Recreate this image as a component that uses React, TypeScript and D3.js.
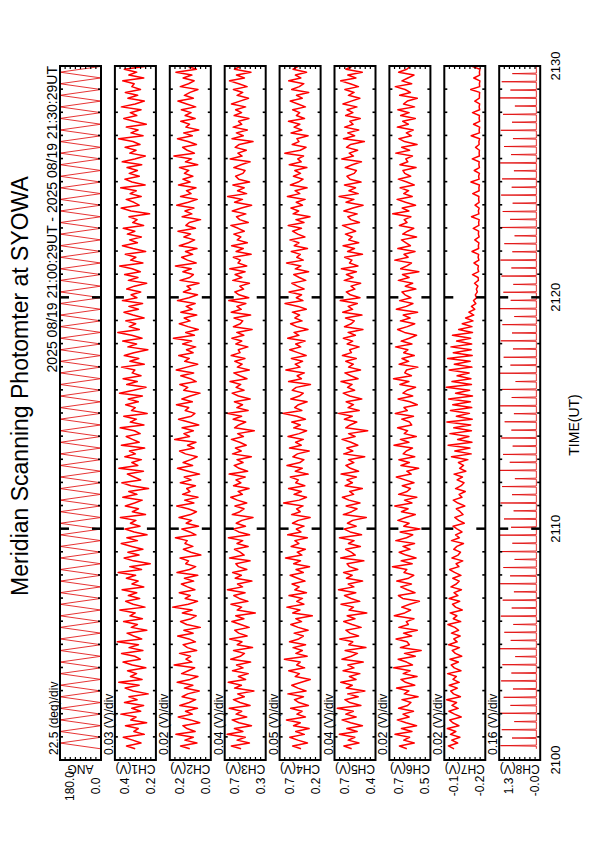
import React from "react"
import * as d3 from "d3"

// page is portrait, chart is drawn landscape and turned -90deg onto it
const PAGE_W = 595
const PAGE_H = 842

const title = "Meridian Scanning Photomter at SYOWA"
const subTitle = "2025 08/19 21:00:29UT - 2025 08/19 21:30:29UT"
const timeTicks = [2100, 2110, 2120, 2130]

const panelNames = ["ANG", "CH1(V)", "CH2(V)", "CH3(V)", "CH4(V)", "CH5(V)", "CH6(V)", "CH7(V)", "CH8(V)"]
const divLabels = ["22.5 (deg)/div", "0.03 (V)/div", "0.02 (V)/div", "0.04 (V)/div", "0.05 (V)/div", "0.04 (V)/div", "0.02 (V)/div", "0.02 (V)/div", "0.16 (V)/div"]
const topLabels = ["180.0", "0.4", "0.2", "0.7", "0.7", "0.7", "0.7", "-0.1", "1.3"]
const bottomLabels = ["0.0", "0.2", "0.0", "0.3", "0.2", "0.4", "0.5", "-0.2", "-0.0"]
const scaleTop = [180, 0.40, 0.20, 0.68, 0.65, 0.70, 0.68, -0.08, 1.26]
const perDiv = [22.5, 0.03, 0.02, 0.04, 0.05, 0.04, 0.02, 0.02, 0.16]

// start of record, minutes after 21:00
const startMin = 29 / 60

// scan mirror angle at each turn (deg), one turn every 15 s
const angTurns = [
  0, 180, 0, 180, 0, 180, 0, 180, 0, 180, 0, 180, 0, 180, 0, 180, 0, 180, 0, 180,
  0, 180, 0, 180, 0, 180, 0, 180, 0, 180, 0, 180, 0, 180, 0, 180, 0, 180, 0, 180,
  0, 180, 0, 180, 0, 180, 0, 180, 0, 180, 0, 180, 0, 180, 0, 180, 0, 180, 0, 180,
  0, 180, 0, 180, 0, 180, 0, 180, 0, 180, 0, 180, 0, 180, 0, 180, 0, 180, 0, 180,
  0, 180, 0, 180, 0, 180, 0, 180, 0, 180, 0, 180, 0, 180, 0, 180, 0, 180, 0, 180,
  0, 180, 0, 180, 0, 180, 0, 180, 0, 180, 0, 180, 0, 180, 0, 180, 0, 180, 0, 180, 0,
]
const angStepMin = 0.25

// photometer channels in mV, one sample every 7.5 s
const sampleStepMin = 0.125

const ch1 = [
  281, 332, 247, 296, 351, 228, 289, 263, 338, 214, 307, 276, 365, 249, 301, 232, 344, 270, 318, 205,
  292, 340, 258, 377, 241, 309, 273, 326, 219, 298, 352, 251, 284, 361, 236, 317, 262, 386, 243, 290,
  329, 213, 304, 268, 349, 239, 312, 281, 371, 224, 293, 337, 255, 321, 272, 358, 231, 300, 264, 333,
  279, 381, 244, 313, 193, 291, 346, 259, 324, 236, 302, 363, 268, 330, 212, 287, 341, 253, 309, 277,
  368, 221, 298, 262, 339, 285, 240, 354, 271, 319, 203, 306, 359, 249, 288, 327, 233, 376, 266, 301,
  245, 342, 280, 315, 226, 362, 258, 297, 334, 252, 286, 369, 230, 310, 274, 348, 211, 303, 281, 337,
  263, 322, 239, 373, 291, 218, 331, 269, 352, 247, 299, 283, 361, 228, 312, 260, 345, 289, 207, 324,
  273, 354, 241, 302, 383, 257, 316, 278, 336, 229, 294, 347, 262, 318, 238, 356, 271, 305, 249, 331,
  286, 214, 321, 265, 343, 251, 299, 372, 236, 308, 277, 339, 220, 294, 356, 268, 314, 245, 327, 283,
  351, 232, 296, 270, 318, 197, 305, 363, 258, 289, 334, 246, 311, 275, 366, 223, 300, 342, 257, 316,
  268, 329, 243, 357, 284, 222, 313, 276, 340, 253, 295, 378, 235, 306, 264, 333, 216, 289, 348, 272,
  310, 247, 362, 281, 228, 324, 267, 339, 250, 301, 287, 354, 231, 318, 272, 345, 226, 299, 336, 262,
]
const ch2 = [
  122, 158, 94, 141, 108, 176, 101, 133, 149, 83, 119, 167, 112, 139, 92, 161, 124, 99, 152, 130,
  85, 143, 110, 171, 121, 90, 154, 128, 103, 183, 114, 137, 119, 162, 95, 131, 148, 100, 125, 169,
  109, 145, 81, 134, 158, 117, 97, 151, 113, 189, 128, 92, 140, 120, 163, 102, 131, 155, 107, 143,
  91, 172, 123, 99, 138, 127, 160, 79, 118, 147, 110, 141, 132, 178, 98, 122, 153, 88, 136, 115,
  164, 119, 96, 129, 173, 106, 142, 90, 150, 121, 134, 100, 159, 117, 144, 84, 128, 170, 111, 148,
  118, 93, 139, 162, 105, 131, 98, 181, 123, 145, 108, 152, 87, 127, 166, 116, 102, 140, 126, 174,
  112, 153, 120, 82, 146, 130, 161, 97, 119, 157, 107, 175, 133, 91, 142, 124, 165, 109, 135, 99,
  150, 115, 186, 104, 138, 89, 129, 163, 121, 144, 95, 157, 113, 136, 101, 170, 125, 92, 147, 118,
  133, 86, 160, 122, 108, 149, 116, 178, 97, 131, 154, 111, 139, 94, 163, 127, 103, 145, 119, 168,
  100, 137, 124, 80, 152, 114, 141, 106, 173, 128, 93, 158, 117, 135, 98, 166, 121, 149, 110, 143,
  126, 162, 91, 139, 115, 184, 104, 132, 150, 96, 129, 170, 112, 146, 87, 137, 123, 157, 101, 140,
  117, 155, 99, 134, 168, 108, 143, 121, 90, 159, 127, 105, 148, 114, 176, 96, 130, 152, 111, 138,
]
const ch3 = [
  552, 628, 487, 583, 519, 661, 538, 604, 471, 569, 622, 508, 591, 547, 644, 482, 561, 612, 527, 579,
  452, 603, 549, 652, 517, 574, 496, 619, 537, 588, 478, 633, 558, 526, 611, 463, 582, 545, 641, 505,
  571, 602, 489, 556, 624, 530, 594, 441, 583, 548, 631, 499, 566, 609, 521, 659, 541, 580, 468, 598,
  550, 618, 507, 572, 593, 482, 642, 528, 560, 604, 497, 584, 539, 651, 486, 570, 613, 518, 590, 546,
  459, 621, 562, 529, 600, 508, 581, 633, 542, 575, 490, 611, 553, 592, 520, 645, 501, 568, 606, 537,
  584, 472, 619, 551, 596, 512, 563, 628, 534, 579, 449, 603, 570, 516, 614, 548, 662, 497, 585, 541,
  604, 481, 573, 622, 529, 591, 555, 638, 506, 562, 609, 488, 581, 544, 601, 522, 629, 560, 574, 499,
  593, 547, 624, 531, 586, 466, 612, 558, 539, 607, 478, 629, 551, 585, 515, 648, 492, 569, 601, 533,
  562, 487, 617, 546, 599, 521, 640, 508, 576, 557, 613, 474, 591, 535, 626, 503, 582, 554, 609, 527,
  575, 632, 496, 563, 588, 515, 621, 549, 470, 603, 541, 657, 509, 580, 528, 616, 486, 571, 595, 538,
  521, 609, 553, 482, 637, 544, 577, 511, 598, 566, 459, 623, 535, 589, 503, 614, 547, 572, 491, 606,
  548, 595, 517, 627, 561, 494, 583, 539, 612, 505, 570, 642, 526, 588, 475, 604, 556, 531, 618, 543,
]
const ch4 = [
  441, 523, 378, 472, 551, 409, 493, 362, 514, 448, 583, 398, 481, 431, 542, 369, 462, 505, 417, 569,
  392, 471, 532, 438, 351, 498, 457, 561, 406, 484, 449, 603, 381, 491, 428, 519, 397, 553, 463, 418,
  508, 372, 469, 541, 436, 492, 331, 522, 451, 579, 413, 483, 427, 558, 388, 502, 459, 529, 402, 474,
  547, 419, 490, 358, 513, 446, 592, 433, 478, 399, 537, 461, 501, 379, 571, 442, 487, 411, 524, 468,
  352, 533, 449, 484, 421, 611, 458, 387, 509, 437, 562, 404, 492, 468, 546, 371, 497, 429, 578, 452,
  413, 521, 476, 361, 553, 439, 494, 418, 568, 459, 386, 512, 447, 531, 398, 482, 621, 433, 503, 466,
  382, 541, 458, 419, 527, 488, 349, 562, 437, 479, 408, 589, 451, 498, 426, 535, 391, 472, 552, 444,
  493, 402, 571, 462, 509, 373, 484, 543, 431, 501, 455, 526, 389, 468, 597, 422, 487, 436, 558, 411,
  476, 531, 395, 458, 512, 367, 497, 442, 582, 419, 483, 448, 536, 378, 507, 461, 549, 403, 472, 524,
  437, 566, 412, 491, 353, 518, 464, 539, 427, 488, 401, 574, 453, 499, 382, 545, 468, 421, 515, 446,
  502, 384, 556, 439, 473, 416, 599, 448, 392, 527, 461, 481, 372, 538, 433, 509, 452, 563, 407, 486,
  454, 523, 398, 471, 546, 429, 485, 366, 532, 458, 414, 561, 443, 496, 387, 519, 469, 435, 551, 423,
]
const ch5 = [
  566, 627, 509, 593, 541, 662, 523, 604, 482, 574, 641, 531, 612, 553, 678, 494, 581, 619, 515, 597,
  463, 608, 561, 651, 532, 584, 502, 633, 548, 596, 476, 642, 569, 521, 617, 455, 588, 557, 659, 512,
  579, 611, 492, 563, 628, 540, 601, 448, 587, 552, 649, 503, 571, 622, 534, 669, 549, 593, 481, 607,
  562, 629, 518, 583, 602, 471, 652, 538, 570, 613, 498, 591, 547, 661, 489, 578, 624, 531, 599, 558,
  452, 631, 566, 524, 609, 501, 587, 639, 551, 582, 483, 617, 560, 603, 529, 648, 512, 576, 611, 549,
  591, 464, 628, 557, 604, 518, 572, 641, 539, 590, 441, 612, 578, 526, 623, 561, 671, 507, 594, 552,
  609, 487, 581, 632, 543, 598, 563, 649, 516, 574, 619, 497, 590, 553, 612, 530, 638, 568, 582, 508,
  601, 558, 631, 537, 594, 478, 622, 569, 546, 614, 486, 636, 559, 593, 522, 655, 501, 577, 608, 541,
  571, 496, 624, 555, 607, 529, 646, 517, 583, 564, 621, 482, 598, 544, 633, 511, 589, 562, 615, 535,
  583, 638, 505, 572, 596, 523, 627, 556, 477, 610, 548, 664, 515, 587, 536, 622, 493, 579, 603, 546,
  529, 616, 561, 490, 643, 552, 585, 519, 606, 574, 467, 630, 543, 597, 511, 621, 555, 580, 499, 613,
  556, 602, 525, 634, 569, 502, 591, 547, 619, 513, 578, 652, 533, 596, 483, 611, 563, 539, 626, 550,
]
const ch6 = [
  612, 641, 583, 624, 601, 658, 592, 633, 574, 615, 649, 603, 627, 586, 644, 609, 596, 631, 568, 622,
  604, 652, 581, 617, 635, 572, 626, 599, 663, 590, 613, 646, 579, 621, 556, 637, 602, 611, 654, 593,
  625, 571, 643, 606, 614, 584, 661, 620, 597, 632, 601, 563, 628, 645, 580, 610, 636, 594, 651, 605,
  585, 623, 612, 668, 591, 634, 576, 615, 642, 600, 627, 582, 655, 613, 589, 638, 561, 624, 603, 647,
  616, 579, 633, 607, 659, 592, 621, 573, 644, 611, 598, 630, 584, 619, 653, 595, 612, 566, 635, 602,
  643, 581, 626, 614, 590, 662, 604, 637, 575, 622, 609, 648, 593, 601, 632, 586, 657, 610, 623, 571,
  600, 646, 589, 627, 611, 578, 639, 604, 664, 594, 620, 613, 569, 642, 605, 631, 583, 624, 608, 656,
  592, 634, 602, 574, 621, 648, 610, 581, 637, 599, 626, 570, 653, 614, 588, 640, 596, 619, 631, 577,
  618, 589, 645, 603, 629, 565, 636, 612, 594, 659, 607, 623, 580, 647, 598, 615, 633, 574, 628, 609,
  585, 641, 611, 622, 596, 667, 604, 630, 578, 617, 650, 591, 624, 605, 638, 583, 612, 645, 597, 620,
  627, 576, 639, 608, 616, 590, 655, 601, 632, 572, 621, 643, 594, 614, 587, 649, 606, 628, 579, 636,
  603, 647, 582, 625, 610, 571, 640, 598, 619, 657, 593, 631, 608, 584, 644, 612, 599, 635, 566, 623,
]
const ch7 = [
  -118, -96, -132, -109, -141, -104, -125, -92, -137, -113, -101, -146, -120, -98, -134, -110, -128, -89, -143, -116,
  -105, -131, -99, -138, -114, -127, -93, -145, -119, -107, -135, -102, -148, -123, -111, -139, -97, -130, -117, -142,
  -108, -136, -121, -94, -144, -115, -129, -103, -150, -124, -112, -140, -99, -133, -118, -147, -106, -127, -138, -113,
  -145, -120, -101, -137, -126, -152, -110, -134, -143, -117, -129, -155, -108, -139, -124, -149, -131, -114, -158, -136,
  -121, -153, -142, -127, -160, -133, -115, -149, -138, -162, -124, -146, -157, -130, -151, -118, -164, -140, -155, -135,
  -172, -108, -185, -121, -180, -95, -188, -132, -176, -102, -186, -117, -183, -90, -189, -127, -178, -104, -187, -113,
  -182, -97, -190, -124, -179, -88, -186, -110, -184, -130, -177, -99, -188, -119, -181, -93, -189, -115, -185, -106,
  -187, -128, -183, -112, -190, -136, -188, -150, -192, -163, -195, -176, -199, -186, -203, -194, -206, -201, -209, -205,
  -211, -198, -213, -212, -190, -214, -211, -213, -196, -215, -212, -214, -188, -214, -213, -215, -199, -216, -213, -214,
  -193, -215, -214, -216, -186, -215, -213, -216, -200, -216, -214, -215, -191, -216, -215, -217, -184, -216, -214, -217,
  -197, -217, -215, -216, -189, -217, -216, -217, -202, -216, -215, -218, -185, -217, -216, -218, -194, -218, -216, -217,
  -190, -218, -216, -218, -199, -217, -217, -218, -183, -218, -217, -219, -195, -218, -217, -219, -188, -219, -218, -219,
]
// CH8: quiet level plus narrow peaks (minutes after 21:00, volts)
const ch8Base = 0.10
const ch8PeakMin = [
  0.62, 0.95, 1.31, 1.66, 2.02, 2.36, 2.71, 3.07, 3.42, 3.76, 4.12, 4.47, 4.81, 5.17, 5.52, 5.86, 6.22, 6.57, 6.91, 7.27,
  7.62, 7.96, 8.32, 8.67, 9.01, 9.37, 9.72, 10.06, 10.42, 10.77, 11.11, 11.47, 11.82, 12.16, 12.52, 12.87, 13.21, 13.57, 13.92, 14.26,
  14.62, 14.97, 15.31, 15.67, 16.02, 16.36, 16.72, 17.07, 17.41, 17.77, 18.12, 18.46, 18.82, 19.17, 19.51, 19.87, 20.22, 20.56, 20.92, 21.27,
  21.61, 21.97, 22.32, 22.66, 23.02, 23.37, 23.71, 24.07, 24.42, 24.76, 25.12, 25.47, 25.81, 26.17, 26.52, 26.86, 27.22, 27.57, 27.91, 28.27,
  28.62, 28.96, 29.32, 29.67,
]
const ch8PeakV = [
  1.22, 0.86, 1.18, 0.79, 1.25, 0.91, 1.12, 0.83, 1.20, 0.88, 1.16, 0.76, 1.24, 0.90, 1.10, 0.82, 1.21, 0.87, 1.15, 0.80,
  1.23, 0.92, 1.13, 0.78, 1.19, 0.85, 1.25, 0.89, 1.11, 0.81, 1.22, 0.86, 1.17, 0.77, 1.24, 0.93, 1.14, 0.84, 1.20, 0.88,
  1.09, 0.80, 1.23, 0.87, 1.18, 0.75, 1.25, 0.91, 1.12, 0.83, 1.21, 0.86, 1.16, 0.79, 1.24, 0.90, 1.13, 0.82, 1.19, 0.88,
  1.22, 0.85, 1.10, 0.78, 1.25, 0.92, 1.15, 0.84, 1.20, 0.87, 1.17, 0.80, 1.23, 0.89, 1.11, 0.83, 1.21, 0.86, 1.14, 0.77,
  1.24, 0.91, 1.18, 0.85,
]

const channels = [ch1, ch2, ch3, ch4, ch5, ch6, ch7]

const plotLeft = 82
const plotRight = 776
const panelTop0 = 60
const panelStep = 54.9
const panelH = 41

export default function App() {
  const x = d3.scaleLinear().domain([0, 30]).range([plotLeft, plotRight])
  const tickMin = (t: number) => Math.floor(t / 100) * 60 + (t % 100) - 21 * 60

  const panels = panelNames.map((name, i) => {
    const top = panelTop0 + i * panelStep
    const y = d3.scaleLinear().domain([scaleTop[i] - 8 * perDiv[i], scaleTop[i]]).range([top + panelH, top])
    let pts: [number, number][] = []
    if (i === 0) {
      pts = angTurns.map((v, k) => [startMin + k * angStepMin, v])
    } else if (i <= 7) {
      pts = channels[i - 1].map((v, k) => [startMin + k * sampleStepMin, v / 1000])
    } else {
      pts.push([startMin, ch8Base])
      ch8PeakMin.forEach((t, k) => {
        pts.push([t - 0.025, ch8Base], [t, ch8PeakV[k]], [t + 0.025, ch8Base])
      })
      pts.push([30.5, ch8Base])
    }
    const line = d3.line<[number, number]>().x(d => x(d[0])).y(d => y(d[1]))
    return { name, i, top, path: line(pts) || "" }
  })

  const minuteTicks = d3.range(1, 30)
  const valueTicks = d3.range(1, 8)

  return (
    <svg width={PAGE_W} height={PAGE_H} style={{ position: "absolute", left: 0, top: 0, background: "#fff" }}
      fontFamily="'Liberation Sans', Arial, sans-serif">
      <defs>
        {panels.map(p => (
          <clipPath id={"clip" + p.i} key={p.i}>
            <rect x={plotLeft} y={p.top} width={plotRight - plotLeft} height={panelH} />
          </clipPath>
        ))}
      </defs>
      <g transform={`translate(0,${PAGE_H}) rotate(-90)`}>
        <text x={456} y={28} textAnchor="middle" fontSize={23}>{title}</text>
        <text x={plotRight} y={57} textAnchor="end" fontSize={14}>{subTitle}</text>

        {panels.map(p => {
          const bottom = p.top + panelH
          const cy = p.top + panelH / 2
          const thin = p.i === 0 || p.i === 8
          return (
            <g key={p.i}>
              <path d={p.path} fill="none" stroke={thin ? "#e00000" : "#ff0000"} strokeWidth={thin ? 0.8 : 1.5}
                strokeLinejoin="round" clipPath={`url(#clip${p.i})`} />
              <rect x={plotLeft} y={p.top} width={plotRight - plotLeft} height={panelH} fill="none" stroke="#000" strokeWidth={2} />
              {minuteTicks.map(m => {
                const major = m % 10 === 0
                const len = major ? 9 : 3
                return (
                  <g key={m} stroke="#000" strokeWidth={major ? 2.5 : 1.6}>
                    <line x1={x(m)} x2={x(m)} y1={p.top} y2={p.top + len} />
                    <line x1={x(m)} x2={x(m)} y1={bottom} y2={bottom - len} />
                  </g>
                )
              })}
              {valueTicks.map(k => {
                const yy = p.top + (panelH * k) / 8
                return (
                  <g key={k} stroke="#000" strokeWidth={1.2}>
                    <line x1={plotLeft} x2={plotLeft + 3} y1={yy} y2={yy} />
                    <line x1={plotRight} x2={plotRight - 3} y1={yy} y2={yy} />
                  </g>
                )
              })}
              <text x={plotLeft + 5} y={p.top - 2} fontSize={12}>{divLabels[p.i]}</text>
              <text x={56} y={p.top + 14} textAnchor="middle" fontSize={12}>{topLabels[p.i]}</text>
              <text x={56} y={bottom - 1} textAnchor="middle" fontSize={12}>{bottomLabels[p.i]}</text>
              <text transform={`translate(77,${cy}) rotate(-90)`} textAnchor="middle" fontSize={12}>{p.name}</text>
            </g>
          )
        })}

        {timeTicks.map(t => (
          <text key={t} x={x(tickMin(t))} y={560} textAnchor="middle" fontSize={13}>{t}</text>
        ))}
        <text x={417} y={579} textAnchor="middle" fontSize={14}>TIME(UT)</text>
      </g>
    </svg>
  )
}
